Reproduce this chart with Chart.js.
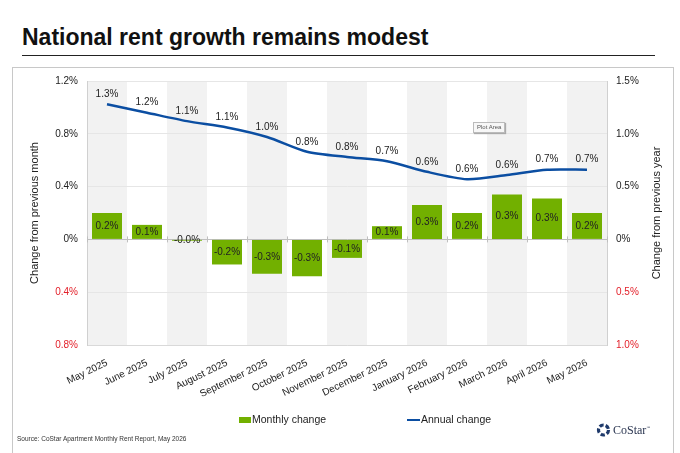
<!DOCTYPE html>
<html>
<head>
<meta charset="utf-8">
<script src="https://cdn.jsdelivr.net/npm/chart.js@4.4.1/dist/chart.umd.min.js"></script>
<style>
  html, body { margin: 0; padding: 0; background: #fff; }
  body { width: 680px; height: 453px; position: relative; overflow: hidden; font-family: "Liberation Sans", Arial, sans-serif; color: #222; }
  #title { position: absolute; left: 22px; top: 26px; font-size: 23px; line-height: 23px; font-weight: bold; color: #111; white-space: nowrap; }
  #rule { position: absolute; left: 22px; top: 55px; width: 633px; height: 0; border-top: 1.5px solid #222; }
  #frame { position: absolute; left: 12px; top: 67px; width: 660px; height: 400px; border: 1px solid #c8c8c8; }
  #chart { position: absolute; left: 0; top: 0; }
  .leg { position: absolute; top: 412px; font-size: 10.5px; line-height: 14px; white-space: nowrap; color: #222; }
  .sw { display: inline-block; vertical-align: middle; }
  #source { position: absolute; left: 17px; top: 435px; font-size: 6.5px; color: #333; white-space: nowrap; }
  #logo { position: absolute; left: 596px; top: 423px; white-space: nowrap; font-family: "Liberation Serif", serif; font-size: 12px; color: #2a3550; }
  #plotarea { position: absolute; left: 473px; top: 122px; padding: 0 3px; font-size: 6px; line-height: 9px; color: #555; background: #f7f7f7; border: 1px solid #bbb; box-shadow: 1px 1px 1px #aaa; }
</style>
</head>
<body>
<div id="title">National rent growth remains modest</div>
<div id="rule"></div>
<div id="frame"></div>
<canvas id="chart" width="680" height="453"></canvas>
<div id="plotarea">Plot Area</div>
<div class="leg" style="left:239px;"><span class="sw" style="width:12px;height:6px;background:#72b000;margin-right:1px;"></span>Monthly change</div>
<div class="leg" style="left:407px;"><span class="sw" style="width:13px;height:2.5px;background:#0b4ea2;margin-right:1px;"></span>Annual change</div>
<div id="source">Source: CoStar Apartment Monthly Rent Report, May 2026</div>
<div id="logo"><svg width="15" height="14" viewBox="0 0 15 14" style="vertical-align:-3px;margin-right:2px;">
  <circle cx="7.5" cy="7" r="5" fill="none" stroke="#1f3a6b" stroke-width="3.2" stroke-dasharray="4.2 2.1"/>
</svg>CoStar<sup style="font-size:4px;">™</sup></div>

<script>
const months = [
  "May 2025", "June 2025", "July 2025", "August 2025", "September 2025",
  "October 2025", "November 2025", "December 2025", "January 2026",
  "February 2026", "March 2026", "April 2026", "May 2026"
];
const monthlyChange = [0.2, 0.11, -0.01, -0.19, -0.26, -0.28, -0.14, 0.1, 0.26, 0.2, 0.34, 0.31, 0.2];
const annualChange = [1.28, 1.2, 1.12, 1.06, 0.97, 0.83, 0.78, 0.74, 0.64, 0.57, 0.61, 0.66, 0.66];
const leftTicks = [-0.8, -0.4, 0, 0.4, 0.8, 1.2];
const rightTicks = [-1.0, -0.5, 0, 0.5, 1.0, 1.5];

const green = "#72b000";
const blue = "#0b4ea2";
const red = "#e3202a";
const fontFam = "'Liberation Sans', Arial, sans-serif";

const fmtTick = (v) => (Math.abs(v) < 1e-9 ? "0%" : Math.abs(v).toFixed(1) + "%");

// alternating column shading + category ticks on the zero line
const columnBands = {
  id: "columnBands",
  beforeDraw: (chart) => {
    const { ctx, chartArea, scales } = chart;
    const x = scales.x;
    const step = x.width / months.length;
    ctx.save();
    ctx.fillStyle = "#f2f2f2";
    months.forEach((m, i) => {
      if (i % 2 === 0) {
        const cx = x.getPixelForValue(i);
        ctx.fillRect(cx - step / 2, chartArea.top, step, chartArea.bottom - chartArea.top);
      }
    });
    ctx.restore();
  },
  afterDatasetsDraw: (chart) => {
    const { ctx, scales } = chart;
    const x = scales.x;
    const y0 = scales.y.getPixelForValue(0);
    const step = x.width / months.length;
    ctx.save();
    ctx.strokeStyle = "#bfbfbf";
    ctx.lineWidth = 1;
    for (let i = 0; i <= months.length; i++) {
      const px = Math.round(x.getPixelForValue(0) - step / 2 + i * step) + 0.5;
      ctx.beginPath();
      ctx.moveTo(px, y0 - 3);
      ctx.lineTo(px, y0 + 3);
      ctx.stroke();
    }
    ctx.restore();
  },
};

// value labels on bars and line, right axis title read bottom-to-top
const valueLabels = {
  id: "valueLabels",
  afterDraw: (chart) => {
    const { ctx, chartArea } = chart;
    ctx.save();
    ctx.font = "10px " + fontFam;
    ctx.fillStyle = "#222";
    ctx.textAlign = "center";
    ctx.textBaseline = "middle";
    chart.getDatasetMeta(1).data.forEach((bar, i) => {
      const yMid = (bar.y + bar.base) / 2;
      ctx.fillText(monthlyChange[i].toFixed(1) + "%", bar.x, yMid);
    });
    chart.getDatasetMeta(0).data.forEach((pt, i) => {
      ctx.fillText(annualChange[i].toFixed(1) + "%", pt.x, pt.y - 10);
    });
    ctx.font = "11px " + fontFam;
    ctx.translate(chart.scales.y1.right - 23, (chartArea.top + chartArea.bottom) / 2);
    ctx.rotate(-Math.PI / 2);
    ctx.fillText("Change from previous year", 0, 0);
    ctx.restore();
  },
};

const ctx = document.getElementById("chart").getContext("2d");
const grafico = new Chart(ctx, {
  data: {
    labels: months,
    datasets: [
      {
        type: "line",
        label: "Annual change",
        data: annualChange,
        yAxisID: "y1",
        borderColor: blue,
        backgroundColor: blue,
        borderWidth: 2.5,
        pointRadius: 0,
        tension: 0.25,
        order: 0,
      },
      {
        type: "bar",
        label: "Monthly change",
        data: monthlyChange,
        yAxisID: "y",
        backgroundColor: green,
        borderWidth: 0,
        categoryPercentage: 0.75,
        barPercentage: 1,
        order: 1,
      },
    ],
  },
  options: {
    responsive: false,
    animation: false,
    layout: { padding: { top: 81, left: 0, right: 0, bottom: 0 } },
    plugins: {
      legend: { display: false },
      tooltip: { enabled: false },
    },
    scales: {
      x: {
        offset: true,
        grid: { display: false },
        border: { display: true, color: "#d9d9d9" },
        ticks: {
          autoSkip: false,
          minRotation: 26,
          maxRotation: 26,
          padding: 4,
          color: "#222",
          font: { family: fontFam, size: 10 },
        },
        afterFit: (s) => { s.height = 108; },
      },
      y: {
        position: "left",
        min: -0.8,
        max: 1.2,
        afterBuildTicks: (s) => { s.ticks = leftTicks.map((v) => ({ value: v })); },
        grid: {
          drawTicks: false,
          color: (c) => (c.tick && Math.abs(c.tick.value) < 1e-9 ? "#bfbfbf" : "#e6e6e6"),
        },
        border: { display: true, color: "#d0d0d0" },
        ticks: {
          padding: 9,
          callback: (v) => fmtTick(v),
          color: (c) => (c.tick && c.tick.value < 0 ? red : "#222"),
          font: { family: fontFam, size: 10 },
        },
        title: {
          display: true,
          text: "Change from previous month",
          color: "#222",
          font: { family: fontFam, size: 11 },
          padding: { top: 28, bottom: 0 },
        },
        afterFit: (s) => { s.width = 87; },
      },
      y1: {
        position: "right",
        min: -1.0,
        max: 1.5,
        afterBuildTicks: (s) => { s.ticks = rightTicks.map((v) => ({ value: v })); },
        grid: { display: false, drawTicks: false },
        border: { display: true, color: "#d0d0d0" },
        ticks: {
          padding: 9,
          callback: (v) => fmtTick(v),
          color: (c) => (c.tick && c.tick.value < 0 ? red : "#222"),
          font: { family: fontFam, size: 10 },
        },
        afterFit: (s) => { s.width = 73; },
      },
    },
  },
  plugins: [columnBands, valueLabels],
});
</script>
</body>
</html>
